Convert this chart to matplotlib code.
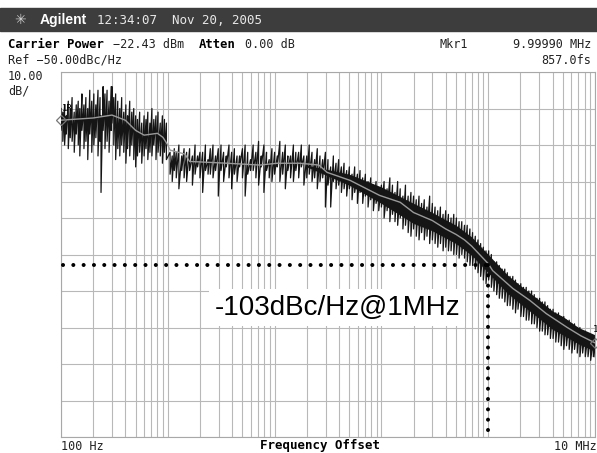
import numpy as np
import matplotlib.pyplot as plt
from matplotlib.patches import Rectangle
from matplotlib.ticker import LogLocator, NullFormatter

# smoothed (gray) trace, dBc/Hz
smooth_freq = [100, 200, 300, 400, 500, 600, 800, 900, 1000, 1050, 1450, 1600, 3600, 7300,
               10500, 17300, 26000, 31000, 51000, 96000, 150000, 200000, 300000, 400000,
               500000, 600000, 700000, 800000, 1.0e6, 1.1e6, 1.7e6, 2.46e6, 3.5e6, 5.5e6,
               7.4e6, 1.0e7]
smooth_level = [-63.2, -62.6, -61.8, -63.2, -66.0, -67.3, -66.8, -67.9, -70.0, -71.4, -72.5,
                -74.5, -75.0, -75.5, -75.0, -75.0, -75.5, -77.5, -79.7, -83.8, -85.7, -88.5,
                -90.7, -93.0, -94.5, -96.0, -97.7, -99.5, -102.5, -104.4, -109.3, -112.6,
                -116.2, -120.0, -122.3, -124.2]

# raw noisy trace: (freq, peak, trough)
raw_freq = [100, 104, 108, 112, 117, 122, 127, 133, 139, 145, 150, 157, 164, 171, 178, 186,
            194, 203, 212, 222, 232, 237, 248, 258, 270, 282, 295, 300, 312, 325, 340, 355,
            370, 387, 405, 420, 440, 460, 480, 500, 520, 545, 570, 600, 625, 650, 680, 710,
            740, 775, 810, 850, 890, 930, 970,
            1050, 1100, 1150, 1200, 1270, 1350, 1420, 1500,
            1600, 1700, 1800, 1900, 2000, 2120, 2250, 2380, 2500, 2650, 2800, 2970, 3150,
            3330, 3530, 3740, 3960, 4200, 4450, 4700, 5000, 5300, 5600, 5950, 6300, 6680,
            7080, 7500, 7940, 8400, 8900, 9440, 10000, 10600, 11200, 11900, 12600, 13300,
            14100, 15000, 15800, 16800, 17800, 18800, 20000, 21100, 22400, 23700, 25100,
            26600, 28200, 29900, 31600, 33500, 35500, 37600, 39800, 42200, 44700, 47300,
            50100, 53100, 56200, 59600, 63100, 66800, 70800, 75000, 79400, 84100, 89100,
            94400, 100000,
            106e3, 113e3, 120e3, 127e3, 134e3, 142e3, 150e3, 159e3, 168e3, 178e3, 189e3,
            200e3, 212e3, 225e3, 238e3, 252e3, 267e3, 283e3, 300e3, 318e3, 337e3, 357e3,
            378e3, 400e3, 424e3, 449e3, 476e3, 504e3, 534e3, 566e3, 600e3, 636e3, 674e3,
            714e3, 757e3, 802e3, 850e3, 900e3, 954e3, 1.01e6, 1.07e6, 1.13e6, 1.2e6, 1.27e6,
            1.35e6, 1.43e6, 1.51e6, 1.6e6, 1.7e6, 1.8e6, 1.9e6, 2.02e6, 2.14e6, 2.27e6,
            2.4e6, 2.55e6, 2.7e6, 2.86e6, 3.03e6, 3.21e6, 3.4e6, 3.6e6, 3.82e6, 4.05e6,
            4.29e6, 4.55e6, 4.82e6, 5.1e6, 5.41e6, 5.73e6, 6.07e6, 6.43e6, 6.82e6, 7.22e6,
            7.66e6, 8.11e6, 8.6e6, 9.11e6, 9.65e6, 1.0e7]
raw_peak = [-60, -61, -59, -62, -58, -60, -57, -61, -59, -58, -60, -56, -59, -57, -60, -55,
            -58, -56, -59, -55, -57, -62, -54, -56, -55, -58, -54, -54, -57, -56, -58, -60,
            -57, -61, -59, -62, -58, -61, -60, -62, -63, -61, -64, -62, -63, -61, -64, -60,
            -63, -62, -61, -64, -62, -63, -64,
            -72, -73, -71, -72, -70, -73, -71, -72,
            -71, -73, -70, -73, -72, -72, -70, -74, -71, -70, -73, -71, -70,
            -72, -73, -70, -72, -71, -73, -73, -71, -70, -72, -74, -70, -72,
            -69, -73, -70, -72, -74, -71, -72, -73, -69, -72, -70, -73,
            -73, -70, -72, -72, -70, -73, -73, -70, -72, -74, -71,
            -73, -74, -72, -74, -76, -73, -75, -74, -76, -75, -77,
            -76, -78, -76, -78, -77, -79, -78, -80, -79, -81, -80,
            -82, -81,
            -80, -82, -79, -81, -83, -80, -82, -84, -81, -84, -83,
            -84, -85, -84, -86, -85, -87, -84, -86, -87, -88, -87,
            -89, -88, -89, -90, -89, -90, -91, -91, -92, -92, -93,
            -94, -95, -96, -97, -98, -99, -99, -100, -102, -102, -103,
            -104, -104, -105, -106, -106, -107, -108, -108, -109, -109,
            -110, -110, -111, -112, -112, -113, -113, -114, -115, -115,
            -116, -116, -117, -117, -118, -118, -119, -119, -120, -120,
            -121, -121, -122, -122, -123, -123]
raw_trough = [-66, -69, -70, -67, -71, -68, -69, -72, -67, -70, -73, -66, -71, -69, -74, -67,
              -72, -70, -68, -73, -69, -83, -66, -71, -69, -72, -66, -64, -70, -74, -71, -73,
              -70, -72, -75, -71, -73, -70, -74, -76, -73, -72, -75, -73, -71, -74, -72, -73,
              -70, -74, -72, -73, -75, -72, -74,
              -78, -80, -77, -79, -82, -77, -79, -80,
              -77, -81, -78, -76, -79, -83, -77, -78, -78, -79, -77, -84, -77,
              -80, -76, -79, -82, -78, -80, -76, -79, -84, -78, -77, -77, -79,
              -81, -76, -83, -77, -79, -80, -78, -76, -80, -78, -82, -77,
              -79, -80, -77, -79, -76, -81, -79, -78, -80, -79, -82,
              -80, -79, -87, -81, -87, -80, -82, -81, -83, -82, -84,
              -82, -85, -83, -86, -83, -86, -84, -87, -85, -88, -86,
              -88, -87,
              -90, -88, -91, -89, -91, -92, -90, -93, -92, -94, -95,
              -93, -95, -96, -94, -96, -95, -97, -96, -97, -98, -97,
              -99, -98, -99, -99, -100, -100, -101, -100, -101, -102, -103,
              -103, -104, -105, -106, -107, -108, -107, -109, -110, -111, -112,
              -112, -113, -114, -114, -115, -116, -115, -117, -117, -118,
              -118, -119, -119, -120, -121, -121, -122, -122, -123, -123,
              -124, -124, -125, -126, -125, -126, -127, -126, -127, -128,
              -127, -128, -128, -129, -128, -128]

# dense core of the trace at high offsets
core_freq = [2e4, 5e4, 1e5, 2e5, 3e5, 4e5, 5e5, 7e5, 1e6, 1.5e6, 2e6, 3e6, 4e6, 5e6, 7e6, 1e7]
core_hi = [-75.5, -78, -81.5, -86, -88.5, -90.5, -92, -95.2, -100, -105.5, -108.5, -112.5,
           -115.5, -117, -120, -122]
core_lo = [-76, -81, -86, -91.5, -93.5, -95.5, -97, -100.2, -105, -110.5, -113.5, -117.5,
           -120.5, -122, -124.5, -126.5]

spot_freq = 1e6
spot_level = -103
label = "-103dBc/Hz@1MHz"

W, H = 597, 453


def px(x, y):
    return x / W, 1 - y / H


fig = plt.figure(figsize=(W / 100, H / 100), dpi=100)
fig.patches.append(Rectangle(px(0, 31), 1, 23 / H, transform=fig.transFigure,
                             color='#3d3d3d', zorder=0))

ax = fig.add_axes([61 / W, 1 - 437 / H, 534 / W, 365 / H])
ax.set_xscale('log')
ax.set_xlim(100, 1e7)
ax.set_ylim(-150, -50)
ax.set_yticks(np.arange(-150, -49, 10))
ax.xaxis.set_major_locator(LogLocator(base=10, numticks=10))
ax.xaxis.set_minor_locator(LogLocator(base=10, subs=np.arange(2, 10), numticks=20))
ax.xaxis.set_minor_formatter(NullFormatter())
ax.tick_params(which='both', length=0, labelbottom=False, labelleft=False)
ax.grid(True, which='both', axis='x', color='#b8b8b8', lw=0.8)
ax.grid(True, which='major', axis='y', color='#b8b8b8', lw=0.8)
for s in ax.spines.values():
    s.set_color('#a8a8a8')
    s.set_linewidth(0.8)

ax.fill_between(core_freq, core_lo, core_hi, color='#151515', lw=0, zorder=2)
zx = np.repeat(raw_freq, 2)
zy = np.column_stack([raw_peak, raw_trough]).ravel()
ax.plot(zx, zy, color='#151515', lw=0.9, zorder=3)
ax.plot(smooth_freq, smooth_level, color='#9a9a9a', lw=1.0, zorder=4)

# markers
ax.plot([smooth_freq[0]], [smooth_level[0]], marker='D', ms=5, mfc='none', mec='#777777',
        mew=0.9, zorder=5, clip_on=False)
ax.plot([smooth_freq[-1]], [smooth_level[-1]], marker='D', ms=5, mfc='none', mec='#777777',
        mew=0.9, zorder=5, clip_on=False)
ax.text(smooth_freq[0] * 1.02, smooth_level[0] + 2.5, '1R', fontsize=6.5, family='DejaVu Sans Mono')
ax.text(smooth_freq[-1] * 0.96, smooth_level[-1] + 3, '1', fontsize=6.5, family='DejaVu Sans Mono')

# dotted guide lines
dots = dict(color='black', lw=2.9, linestyle=(0, (0.01, 2.55)), dash_capstyle='round', zorder=6)
ax.plot([105, spot_freq], [spot_level, spot_level], **dots)
ax.plot([spot_freq, spot_freq], [spot_level, -150], **dots)

ax.text(3.85e4, -114.6, label, fontsize=20, family='Liberation Sans', ha='center', va='center',
        zorder=7, bbox=dict(facecolor='white', edgecolor='none', pad=4))

mono = 'DejaVu Sans Mono'
fig.text(*px(14, 20), '\u2733', color='#d0d0d0', fontsize=10, va='center')
fig.text(*px(40, 20), 'Agilent', color='white', fontsize=10, weight='bold', va='center',
         family='Liberation Sans')
fig.text(*px(97, 20), '12:34:07  Nov 20, 2005', color='#e8e8e8', fontsize=9, va='center',
         family=mono)

fig.text(*px(8, 45), 'Carrier Power', fontsize=8.8, weight='bold', va='center', family=mono)
fig.text(*px(113, 45), '\u221222.43 dBm', fontsize=8.5, va='center', family=mono, color='#222222')
fig.text(*px(199, 45), 'Atten', fontsize=8.8, weight='bold', va='center', family=mono)
fig.text(*px(245, 45), '0.00 dB', fontsize=8.5, va='center', family=mono, color='#222222')
fig.text(*px(440, 45), 'Mkr1', fontsize=8.5, va='center', family=mono, color='#222222')
fig.text(*px(591, 45), '9.99990 MHz', fontsize=8.5, va='center', ha='right', family=mono,
         color='#222222')
fig.text(*px(8, 60), 'Ref \u221250.00dBc/Hz', fontsize=8.5, va='center', family=mono,
         color='#222222')
fig.text(*px(591, 60), '857.0fs', fontsize=8.5, va='center', ha='right', family=mono,
         color='#222222')
fig.text(*px(8, 76), '10.00', fontsize=8.5, va='center', family=mono, color='#222222')
fig.text(*px(8, 91), 'dB/', fontsize=8.5, va='center', family=mono, color='#222222')

fig.text(*px(61, 446), '100 Hz', fontsize=8.5, va='center', family=mono, color='#222222')
fig.text(*px(320, 446), 'Frequency Offset', fontsize=9, weight='bold', va='center',
         ha='center', family=mono)
fig.text(*px(597, 446), '10 MHz', fontsize=8.5, va='center', ha='right', family=mono,
         color='#222222')

fig.savefig('out.png', dpi=100)
